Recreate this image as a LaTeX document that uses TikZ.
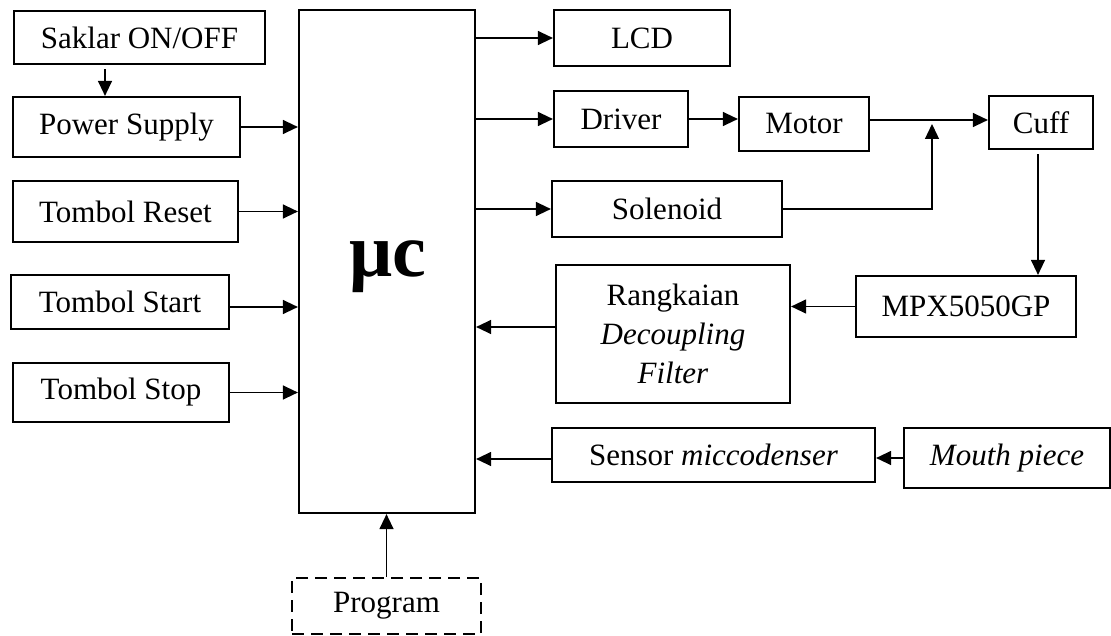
\documentclass[tikz,border=0pt]{standalone}
\usepackage{fontspec}
\setmainfont{Liberation Serif}
\usetikzlibrary{arrows.meta,calc}
\begin{document}
\begin{tikzpicture}[x=1pt,y=-1pt,
  blk/.style={draw,line width=2.2pt,inner sep=0pt,align=center,font=\fontsize{31}{39}\selectfont},
  arr/.style={line width=1.3pt,-{Triangle[length=15pt,width=14pt]}}]
\useasboundingbox (0,0) rectangle (1111,636);
\node[blk,minimum width=251,minimum height=53] (sak) at (139.5,37.5) {Saklar ON/OFF};
\node[blk,minimum width=227,minimum height=60] (ps) at (126.5,127) {Power Supply};
\node[blk,minimum width=225,minimum height=61] (rst) at (125.5,211.5) {Tombol Reset};
\node[blk,minimum width=218,minimum height=54] (sta) at (120,302) {Tombol Start};
\node[blk,minimum width=216,minimum height=59] (sto) at (121,392.5) {Tombol Stop};
\node[blk,minimum width=176,minimum height=503] (mc) at (387,261.5) {};
\node[font=\fontsize{76}{80}\selectfont\bfseries,anchor=base,inner sep=0pt] (mct) at (388,277) {μc};
\node[blk,minimum width=176,minimum height=56] (lcd) at (642,38) {LCD};
\node[blk,minimum width=134,minimum height=56] (drv) at (621,119) {Driver};
\node[blk,minimum width=130,minimum height=54] (mot) at (804,124) {Motor};
\node[blk,minimum width=104,minimum height=53] (cuf) at (1041,122.5) {Cuff};
\node[blk,minimum width=230,minimum height=56] (sol) at (667,209) {Solenoid};
\node[blk,minimum width=234,minimum height=138] (rgk) at (673,334) {Rangkaian\\\textit{Decoupling}\\\textit{Filter}};
\node[blk,minimum width=220,minimum height=61] (mpx) at (966,306.5) {MPX5050GP};
\node[blk,minimum width=323,minimum height=54] (sen) at (713.5,455) {Sensor \textit{miccodenser}};
\node[blk,minimum width=206,minimum height=60] (mth) at (1007,458) {\textit{Mouth piece}};
\node[blk,dash pattern=on 12pt off 7pt,minimum width=189,minimum height=56] (prg) at (386.5,606) {Program};
\coordinate (c1) at (105,0);
\coordinate (jn) at (932,0);
\coordinate (cx) at (1038,0);
\draw[arr,shorten <=4pt] (sak.south -| c1) -- (ps.north -| c1);
\draw[arr] (ps.east) -- (ps.east -| mc.west);
\draw[arr] (rst.east) -- (rst.east -| mc.west);
\draw[arr] ([yshift=-5pt]sta.east) -- ([yshift=-5pt]sta.east -| mc.west);
\draw[arr] (sto.east) -- (sto.east -| mc.west);
\draw[arr] (lcd.west -| mc.east) -- (lcd.west);
\draw[arr] (drv.west -| mc.east) -- (drv.west);
\draw[arr] (sol.west -| mc.east) -- (sol.west);
\draw[arr] (drv.east) -- (drv.east -| mot.west);
\draw[arr] ([yshift=4pt]mot.east) -- ([yshift=4pt]mot.east -| cuf.west);
\draw[arr] (sol.east) -| (jn |- mot.east);
\draw[arr,shorten <=4pt] (cuf.south -| cx) -- (mpx.north -| cx);
\draw[arr] (mpx.west) -- (mpx.west -| rgk.east);
\draw[arr] ([yshift=7pt]rgk.west) -- ([yshift=7pt]rgk.west -| mc.east);
\draw[arr] ([yshift=-4pt]sen.west) -- ([yshift=-4pt]sen.west -| mc.east);
\draw[arr] (mth.west) -- (mth.west -| sen.east);
\draw[arr] (prg.north) -- (prg.north |- mc.south);
\end{tikzpicture}
\end{document}
